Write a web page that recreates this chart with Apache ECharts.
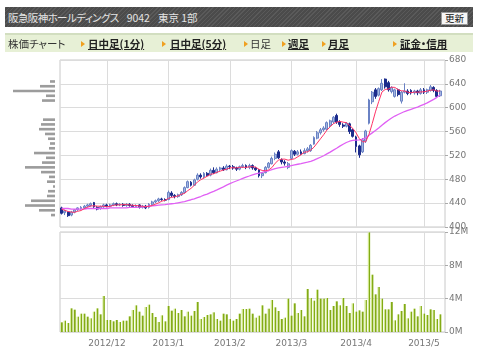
<!DOCTYPE html>
<html><head><meta charset="utf-8">
<script src="https://cdn.jsdelivr.net/npm/echarts@6/dist/echarts.min.js"></script>
<style>
body{margin:0;background:#fff;font-family:"Noto Sans CJK JP",sans-serif;}
#chart{position:absolute;left:0;top:0;width:480px;height:350px;}
.abs{position:absolute;white-space:nowrap;font-feature-settings:"palt";}
#hdr{position:absolute;left:5px;top:7px;width:468px;height:20px;background:repeating-linear-gradient(135deg,#5a5a5a 0px,#5a5a5a 1px,#4b4b4b 1px,#4b4b4b 3px);}
#ttl{position:absolute;left:3px;top:0;height:20px;display:flex;gap:8px;align-items:center;color:#e4e4e4;font-size:10.5px;white-space:nowrap;font-feature-settings:"palt";}
#ttl .n{letter-spacing:-0.6px;}
#btn{position:absolute;left:436px;top:5px;width:25px;height:11px;background:#f6f6f6;border:1px solid #999;font-size:9.5px;line-height:11px;text-align:center;color:#111;}
#nav{position:absolute;left:5px;top:33px;width:468px;height:17px;background:#e7f0d6;border-top:2px solid #d2dec0;}
#nav .abs{font-size:10.5px;line-height:17px;top:0;color:#333;}
#nav .b{font-weight:bold;text-decoration:underline;color:#222;}
#nav .t{top:6px;width:0;height:0;border-left:4px solid #f0a020;border-top:3px solid transparent;border-bottom:3px solid transparent;}
</style>
</head><body>
<div id="chart"></div>
<div id="hdr">
  <div id="ttl"><span class="n">阪急阪神ホールディングス</span><span>9042</span><span>東京 1部</span></div>
  <div id="btn">更新</div>
</div>
<div id="nav">
  <span class="abs" style="left:3px">株価チャート</span>
  <span class="abs t" style="left:76px"></span><span class="abs b" style="left:83px">日中足(1分)</span>
  <span class="abs t" style="left:157px"></span><span class="abs b" style="left:165px">日中足(5分)</span>
  <span class="abs t" style="left:239px"></span><span class="abs" style="left:245px">日足</span>
  <span class="abs t" style="left:277px"></span><span class="abs b" style="left:283px">週足</span>
  <span class="abs t" style="left:317px"></span><span class="abs b" style="left:323px">月足</span>
  <span class="abs t" style="left:388px"></span><span class="abs b" style="left:395px">証金・信用</span>
</div>
<script>
// trading days
const dates = [
'2012/11/12','2012/11/13','2012/11/14','2012/11/15','2012/11/16','2012/11/19','2012/11/20','2012/11/21','2012/11/22','2012/11/26','2012/11/27','2012/11/28','2012/11/29','2012/11/30',
'2012/12/03','2012/12/04','2012/12/05','2012/12/06','2012/12/07','2012/12/10','2012/12/11','2012/12/12','2012/12/13','2012/12/14','2012/12/17','2012/12/18','2012/12/19','2012/12/20','2012/12/21','2012/12/25','2012/12/26','2012/12/27','2012/12/28',
'2013/01/04','2013/01/07','2013/01/08','2013/01/09','2013/01/10','2013/01/11','2013/01/15','2013/01/16','2013/01/17','2013/01/18','2013/01/21','2013/01/22','2013/01/23','2013/01/24','2013/01/25','2013/01/28','2013/01/29','2013/01/30','2013/01/31',
'2013/02/01','2013/02/04','2013/02/05','2013/02/06','2013/02/07','2013/02/08','2013/02/12','2013/02/13','2013/02/14','2013/02/15','2013/02/18','2013/02/19','2013/02/20','2013/02/21','2013/02/22','2013/02/25','2013/02/26','2013/02/27','2013/02/28',
'2013/03/01','2013/03/04','2013/03/05','2013/03/06','2013/03/07','2013/03/08','2013/03/11','2013/03/12','2013/03/13','2013/03/14','2013/03/15','2013/03/18','2013/03/19','2013/03/21','2013/03/22','2013/03/25','2013/03/26','2013/03/27','2013/03/28','2013/03/29',
'2013/04/01','2013/04/02','2013/04/03','2013/04/04','2013/04/05','2013/04/08','2013/04/09','2013/04/10','2013/04/11','2013/04/12','2013/04/15','2013/04/16','2013/04/17','2013/04/18','2013/04/19','2013/04/22','2013/04/23','2013/04/24','2013/04/25','2013/04/26','2013/04/30',
'2013/05/01','2013/05/02','2013/05/07','2013/05/08','2013/05/09','2013/05/10'];

const opens = [432,424,425,420,425,429,431,432,435,436,441,433,431,434,
437,435,437,439,437,438,436,438,436,434,437,433,435,433,438,442,444,447,446,
446,457,453,451,454,458,466,475,470,480,487,484,490,487,495,491,497,499,496,
502,501,499,497,501,503,500,503,499,496,486,491,500,506,515,526,513,509,500,
515,527,522,526,523,528,528,539,549,558,563,564,570,576,587,576,571,569,573,563,
551,536,526,544,574,610,630,621,630,648,642,627,619,630,611,626,628,629,625,628,624,
630,626,629,634,629,620];
const highs = [434,429,426,427,430,433,435,437,439,441,442,435,436,439,
439,439,441,441,440,440,440,440,438,438,438,437,437,440,444,446,449,449,448,
461,460,455,456,460,468,478,477,481,490,490,492,492,498,500,500,501,502,505,
504,504,501,503,506,505,506,505,501,497,492,502,509,518,525,529,515,512,509,
530,529,529,530,532,534,539,552,561,566,569,577,580,586,590,579,574,576,575,565,
553,538,549,563,615,628,633,634,648,649,645,636,632,632,628,641,631,631,630,630,633,
633,632,638,636,631,630];
const lows = [421,420,417,418,423,427,429,431,433,434,432,428,429,432,
433,433,435,435,435,434,434,434,432,432,431,431,430,431,436,440,442,444,443,
445,450,448,449,452,456,465,468,469,478,481,482,484,485,489,490,494,494,495,
497,496,494,495,499,497,497,496,494,483,482,490,498,505,512,514,505,503,497,
513,519,520,521,522,525,526,538,547,555,560,562,567,573,573,568,566,567,556,550,
525,516,524,541,572,606,615,619,628,632,627,624,617,619,607,624,621,622,622,621,622,
623,623,627,626,617,618];
const closes = [423,427,419,425,429,432,433,435,437,439,434,430,434,437,
435,437,439,437,438,436,438,436,434,436,433,435,432,438,442,444,447,446,445,
458,453,451,454,458,466,476,470,479,487,484,490,486,495,491,497,499,496,502,
501,499,497,501,503,500,503,499,496,486,490,500,507,515,522,516,509,507,506,
528,522,526,523,528,531,537,550,558,563,566,575,578,584,576,572,569,574,560,552,
535,521,546,561,613,626,619,632,641,635,630,634,630,622,626,628,624,625,628,625,630,
626,630,635,629,619,628];

// moving averages (5-day red, 25-day purple)
const ma5 = [430,428,426,425,424.6,426.4,427.6,430.8,433.2,435.2,
435.6,435,434.8,434.8,434,434.6,436.4,437,437.2,437.4,
437.6,437,436.4,436,435.4,434.8,434,434.8,436,438.2,
440.6,443.4,444.8,448,449.8,450.6,452.2,454.8,456.4,461,
464.8,469.8,475.6,479.2,482,485.2,488.4,489.2,491.8,493.6,
495.6,497,499,499.4,499,500,500.2,500,500.8,501.2,
500.2,496.8,494.8,494.2,495.8,499.6,506.8,512,513.8,513.8,
512,513.2,514.4,517.8,521,525.4,526,529,533.8,540.8,
547.8,554.8,562.4,568,573.2,575.8,577,575.8,575,570.2,
565.4,558,548.4,542.8,543,555.2,573.4,593,610.2,626.2,
630.6,631.4,634.4,634,630.2,628.4,628,626,625,626.2,
626,626.4,626.8,627.8,629.2,630,627.8,628.2];
const ma25 = [431,431,431,430,430,430,430,430,431,431,
431,431,431,431,431,432,432,432,432,432,
432,433,433,433,433.3,433.8,434,434.8,435.4,436,
436.6,437.2,437.6,438.4,439,439.6,440.6,441.6,442.7,444.4,
445.7,447.3,449.3,451.1,453.3,455.2,457.6,459.8,462.3,464.9,
467.4,470.2,472.7,475,477.1,479.2,481.5,483.7,485.5,487.4,
489.2,490.4,491.7,493.1,494.3,496.1,497.8,499,500,500.7,
501.5,502.8,504,505.2,506.2,507.4,508.6,510,512.1,514.5,
517,519.5,522.5,525.5,528.9,532.1,535.6,538.7,541.7,543.8,
545.3,545.8,546,547.5,549.6,553.9,557.8,561.7,566,570.7,
575,578.9,582.8,586,588.6,591.1,593.6,595.5,597.4,599.2,
601.1,603.4,605.7,608,611,614,617.4,621.7];

// volume, millions of shares
const volumes = [1.16,1.36,1.08,2.84,2.68,1.84,2.2,2.2,1.84,1.64,2.44,2.84,2.12,4.32,
1.44,1.44,1.28,1.44,1.2,1.36,1.36,1.88,2.64,3.2,2.44,1.96,3.0,3.28,2.28,1.8,1.2,2.0,1.28,
3.12,2.56,2.8,2.28,2.64,1.88,2.44,1.96,2.52,3.6,1.56,1.8,2.04,2.12,2.36,1.56,1.36,2.2,2.12,
1.56,1.36,1.56,2.2,2.76,2.76,2.8,2.2,1.72,1.96,3.2,2.2,2.8,3.84,2.96,2.52,1.56,1.72,4.0,
1.96,3.44,2.28,2.64,1.88,5.16,4.08,3.76,5.08,4.0,4.0,4.08,2.64,3.12,3.68,3.2,4.08,3.12,2.28,3.44,
2.44,2.6,2.44,3.84,11.95,6.88,4.52,5.4,4.0,2.72,2.72,3.6,1.4,2.12,2.52,3.36,1.64,2.44,2.8,1.88,3.12,
2.2,2.04,2.72,2.64,1.56,2.12];

// volume by price (8-yen bins from 400 to 680), millions of shares
const profileBins = ['400','408','416','424','432','440','448','456','464','472','480','488','496','504','512','520','528','536','544','552','560','568','576','584','592','600','608','616','624','632','640','648','656','664','672'];
const profileVolume = [0,0,4,16,30,24,8,7,2,8,6,14,30,13,9,21,6,5,7,10,16,14,12,0,0,0,13,9,42,15,5,0,0,0,0];

// axis ticks
const monthTicks = ['2012/12/03','2013/01/04','2013/02/01','2013/03/01','2013/04/01','2013/05/01'];
const monthLabels = ['2012/12','2013/1','2013/2','2013/3','2013/4','2013/5'];
const priceMin = 400, priceMax = 680, priceStep = 40;
const volMax = 12, volStep = 4;

const cats = dates.concat(['']);
const candles = dates.map((d, i) => [opens[i], closes[i], lows[i], highs[i]]);
const gridColor = '#dcdcdc';
const monthLines = {
  silent: true, z: 1, symbol: ['none', 'none'], label: {show: false},
  lineStyle: {color: gridColor, type: 'solid', width: 1},
  emphasis: {disabled: true},
  data: monthTicks.map(d => ({xAxis: d}))
};
const labelStyle = {color: '#777', fontSize: 9, fontFamily: 'DejaVu Sans'};

const chart = echarts.init(document.getElementById('chart'), null, {renderer: 'canvas'});
chart.setOption({
  animation: false,
  backgroundColor: '#fff',
  grid: [
    {left: 60, top: 60, width: 385, height: 167, show: true, borderColor: '#c8c8c8', borderWidth: 1},
    {left: 60, top: 232, width: 385, height: 100, show: true, borderColor: '#c8c8c8', borderWidth: 1},
    {left: 13, top: 60, width: 42, height: 167}
  ],
  xAxis: [
    {type: 'category', gridIndex: 0, data: cats, boundaryGap: true,
     axisLine: {show: false}, axisTick: {show: false}, axisLabel: {show: false}, splitLine: {show: false}},
    {type: 'category', gridIndex: 1, data: cats, boundaryGap: true,
     axisLine: {show: false}, axisTick: {show: false}, splitLine: {show: false},
     axisLabel: Object.assign({
       interval: (i, v) => monthTicks.indexOf(v) >= 0,
       formatter: v => monthLabels[monthTicks.indexOf(v)] || '',
       margin: 7
     }, labelStyle)},
    {type: 'value', gridIndex: 2, min: 0, max: 42, inverse: true, show: false}
  ],
  yAxis: [
    {type: 'value', gridIndex: 0, position: 'right', min: priceMin, max: priceMax, interval: priceStep,
     axisLine: {show: false}, axisTick: {show: true, length: 3, lineStyle: {color: '#aaa'}},
     axisLabel: Object.assign({margin: 4}, labelStyle),
     splitLine: {show: true, lineStyle: {color: gridColor, width: 1}}},
    {type: 'value', gridIndex: 1, position: 'right', min: 0, max: volMax, interval: volStep,
     axisLine: {show: false}, axisTick: {show: true, length: 3, lineStyle: {color: '#aaa'}},
     axisLabel: Object.assign({margin: 4, formatter: v => v + 'M'}, labelStyle),
     splitLine: {show: true, lineStyle: {color: gridColor, width: 1}}},
    {type: 'category', gridIndex: 2, data: profileBins, boundaryGap: true, show: false}
  ],
  series: [
    {type: 'candlestick', xAxisIndex: 0, yAxisIndex: 0, data: candles, barWidth: '72%', z: 3,
     itemStyle: {color: '#a4b7e0', color0: '#1c2c8c', borderColor: '#6a82c4', borderColor0: '#1c2c8c', borderWidth: 1},
     markLine: monthLines},
    {type: 'line', xAxisIndex: 0, yAxisIndex: 0, data: ma25, showSymbol: false, z: 4,
     lineStyle: {color: '#e060f4', width: 1.3}},
    {type: 'line', xAxisIndex: 0, yAxisIndex: 0, data: ma5, showSymbol: false, z: 5,
     lineStyle: {color: '#ff3366', width: 1}},
    {type: 'bar', xAxisIndex: 1, yAxisIndex: 1, data: volumes, barWidth: '72%', z: 3,
     itemStyle: {color: new echarts.graphic.LinearGradient(0, 0, 1, 0, [
       {offset: 0, color: '#cfe68c'}, {offset: 0.4, color: '#cfe68c'},
       {offset: 0.45, color: '#83ab16'}, {offset: 1, color: '#83ab16'}])},
     markLine: monthLines},
    {type: 'bar', xAxisIndex: 2, yAxisIndex: 2, data: profileVolume, barWidth: '55%',
     itemStyle: {color: '#9c9c9c'}}
  ]
});
</script>
</body></html>
